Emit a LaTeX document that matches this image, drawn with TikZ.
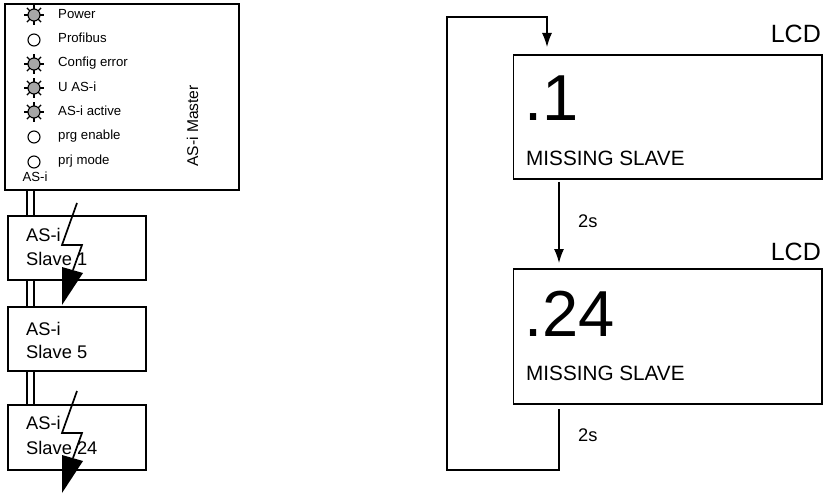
\documentclass[tikz,border=0pt]{standalone}
\usepackage{fontspec}
\setmainfont{Liberation Sans}
\usetikzlibrary{arrows.meta}

\tikzset{
	boxline/.style={draw,line width=1.5pt,outer sep=0pt,inner sep=0pt},
	ledlamp/.style={draw,circle,line width=1.1pt,minimum size=12pt,inner sep=0pt,outer sep=0pt},
	ledon/.style={ledlamp,fill=black!35},
	ledoff/.style={ledlamp,fill=white},
	ledtext/.style={anchor=base west,inner sep=0pt,font=\fontsize{13.2}{15}\selectfont},
	slavetext/.style={anchor=base west,inner sep=0pt,font=\fontsize{18.3}{21}\selectfont},
	timetext/.style={anchor=base west,inner sep=0pt,font=\fontsize{18.3}{21}\selectfont},
	lcdtext/.style={anchor=base east,inner sep=0pt,font=\fontsize{25}{30}\selectfont},
	bigtext/.style={anchor=base west,inner sep=0pt,font=\fontsize{65}{70}\selectfont},
	msgtext/.style={anchor=base west,inner sep=0pt,font=\fontsize{20.7}{24}\selectfont},
	flowline/.style={line width=1.2pt,-{Latex[length=14pt,width=10pt]}},
}

\begin{document}
\begin{tikzpicture}[x=1pt,y=1pt,yscale=-1,xscale=1]
	\useasboundingbox (0,0) rectangle (826,494);

	% Master and slaves
	\node [boxline,minimum width=234pt,minimum height=186pt] (master) at (122,97) {};
	\node [boxline,minimum width=138pt,minimum height=64pt] (slaveone) at (77,248) {};
	\node [boxline,minimum width=138pt,minimum height=64pt] (slavefive) at (77,339) {};
	\node [boxline,minimum width=138pt,minimum height=65pt] (slavelast) at (77,437.5) {};

	% Bus lines
	\coordinate (busleft) at (27,0);
	\coordinate (busright) at (34,0);
	\foreach \busx in {busleft,busright} {
		\draw [line width=1.3pt] (master.south -| \busx) -- (slaveone.north -| \busx);
		\draw [line width=1.3pt] (slaveone.south -| \busx) -- (slavefive.north -| \busx);
		\draw [line width=1.3pt] (slavefive.south -| \busx) -- (slavelast.north -| \busx);
	}

	% LEDs
	\node [ledon] (ledpower) at (34,15) {};
	\node [ledoff] (ledprofibus) at (34,40) {};
	\node [ledon] (ledconfig) at (34,64) {};
	\node [ledon] (leduasi) at (34,88) {};
	\node [ledon] (ledactive) at (34,112) {};
	\node [ledoff] (ledenable) at (34,137) {};
	\node [ledoff] (ledmode) at (34,162) {};
	\foreach \ledname in {ledpower,ledconfig,leduasi,ledactive}
		\foreach \ang in {0,45,...,315}
			\draw [line width=1.4pt,shift={(\ledname.center)}] (\ang:6) -- (\ang:10);

	% Text Node
	\node [ledtext] (txtpower) at (58,19) {Power};
	\node [ledtext] (txtprofibus) at (58,43) {Profibus};
	\node [ledtext] (txtconfig) at (58,67) {Config error};
	\node [ledtext] (txtuasi) at (58,92) {U AS-i};
	\node [ledtext] (txtactive) at (58,116) {AS-i active};
	\node [ledtext] (txtenable) at (58,140) {prg enable};
	\node [ledtext] (txtmode) at (58,165) {prj mode};
	\node [ledtext,anchor=base] (txtbus) at (35,182) {AS-i};
	\node [anchor=base,inner sep=0pt,rotate=90,font=\fontsize{15.6}{18}\selectfont] (txtmaster) at (198,126) {AS-i Master};

	\node [slavetext] (txtasione) at (26,241) {AS-i};
	\node [slavetext] (txtslaveone) at (26,265) {Slave 1};
	\node [slavetext] (txtasifive) at (26,335) {AS-i};
	\node [slavetext] (txtslavefive) at (26,358) {Slave 5};
	\node [slavetext] (txtasilast) at (26,429) {AS-i};
	\node [slavetext] (txtslavelast) at (26,454) {Slave 24};

	% Faults
	\foreach \bolty in {0,188} {
		\draw [line width=1.7pt,yshift=\bolty pt] (77,203) -- (62,245) -- (82,245) -- (73,270);
		\fill [yshift=\bolty pt] (62,267) -- (83,273) -- (62,305) -- cycle;
	}

	% LCD
	\node [boxline,minimum width=308.5pt,minimum height=124pt] (lcdone) at (667.75,117) {};
	\node [boxline,minimum width=308.5pt,minimum height=135pt] (lcdtwo) at (667.75,336.5) {};

	\node [lcdtext] (txtlcdone) at (821,43) {LCD};
	\node [lcdtext] (txtlcdtwo) at (821,260) {LCD};
	\node [bigtext] (txtfirst) at (524.5,121) {.1};
	\node [bigtext] (txtlast) at (524.5,336) {.24};
	\node [msgtext] (txtmsgone) at (526,166) {MISSING SLAVE};
	\node [msgtext] (txtmsgtwo) at (526,380) {MISSING SLAVE};
	\node [timetext] (txttimeone) at (578,228) {2s};
	\node [timetext] (txttimetwo) at (578,441) {2s};

	% Flow
	\coordinate (stepout) at (559,182);
	\coordinate (stepin) at (559,263);
	\coordinate (loopout) at (559,409);
	\coordinate (loopin) at (547,47);
	\draw [flowline] (stepout) -- (stepin);
	\draw [flowline] (loopout) -- (559,470) -- (447,470) -- (447,17) -- (547,17) -- (loopin);
\end{tikzpicture}
\end{document}
